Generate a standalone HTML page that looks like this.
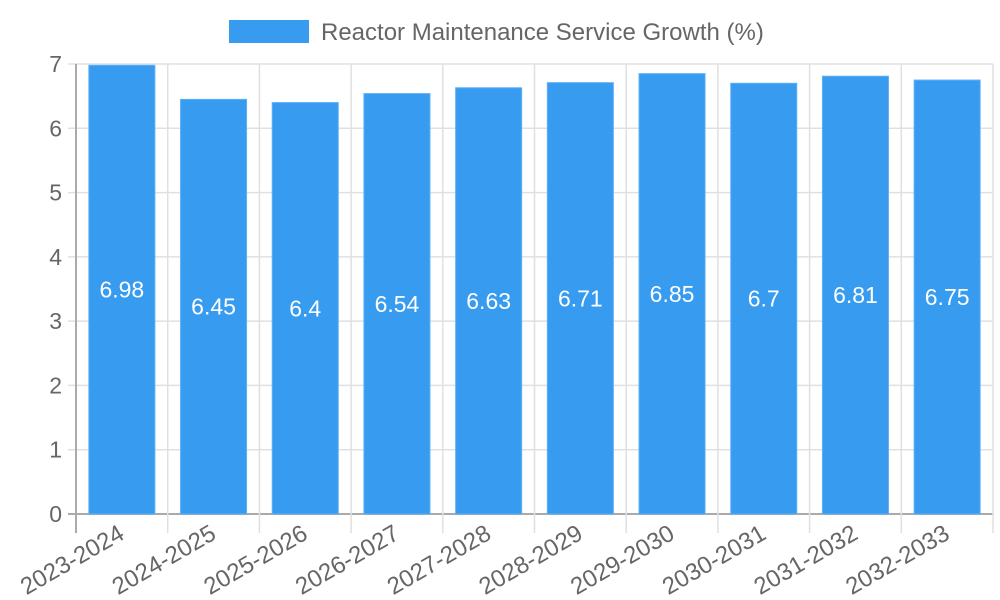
<!DOCTYPE html>
<html><head><meta charset="utf-8"><style>
body{margin:0;background:#fff;}
svg{display:block;font-family:"Liberation Sans",sans-serif;}
</style></head><body>
<svg id="chart" width="1000" height="600"></svg>
<script>
const categories=["2023-2024","2024-2025","2025-2026","2026-2027","2027-2028","2028-2029","2029-2030","2030-2031","2031-2032","2032-2033"];
const values=[6.98,6.45,6.4,6.54,6.63,6.71,6.85,6.7,6.81,6.75];
const yTicks=[0,1,2,3,4,5,6,7];
const NS="http://www.w3.org/2000/svg";
const svg=document.getElementById('chart');
const L=76,R=993,T=64,B=514,yMax=7;
const band=(R-L)/categories.length;
const y=v=>B-(v/yMax)*(B-T);
const xc=i=>L+band*(i+0.5);
function mk(tag,attrs,parent){const e=document.createElementNS(NS,tag);for(const k in attrs)e.setAttribute(k,attrs[k]);(parent||svg).appendChild(e);return e;}
const lg=mk('g',{});


mk('rect',{x:229,y:20,width:80,height:23,fill:'#379cf0'},lg);
const lt=mk('text',{x:321,y:40,'font-size':24,fill:'#666'},lg);
lt.textContent='Reactor Maintenance Service Growth (%)';
const grid=mk('g',{});


yTicks.forEach(t=>{
  mk('line',{x1:L-8,x2:R,y1:y(t),y2:y(t),stroke:t===0?'#aaa':'#e0e0e0','stroke-width':t===0?2:1.5},grid);
  const tx=mk('text',{x:L-14,y:y(t)+8,'font-size':23,fill:'#666','text-anchor':'end'});
  
  
  tx.textContent=t;
});
for(let i=0;i<=categories.length;i++){
  const x=L+band*i;
  mk('line',{x1:x,x2:x,y1:T,y2:B+19,stroke:i===0?'#aaa':'#e0e0e0','stroke-width':i===0?2:1.5},grid);
}
categories.forEach((c,i)=>{
  const w=band*0.72,x=xc(i)-w/2,top=y(values[i]);
  const r=mk('rect',{x:x,y:top,width:w,height:B-top,fill:'#379cf0',stroke:'#5fb0f5','stroke-width':1});
  
  
  const vt=mk('text',{x:xc(i),y:(top+B)/2+8,'font-size':23,fill:'#fff','text-anchor':'middle'});
  
  
  vt.textContent=values[i];
  const lx=xc(i)+4,ly=B+24;
  const ct=mk('text',{x:lx,y:ly,'font-size':24,fill:'#666','text-anchor':'end',transform:`rotate(-30 ${lx} ${ly})`});
  
  
  ct.textContent=c;
});
</script>
</body></html>
